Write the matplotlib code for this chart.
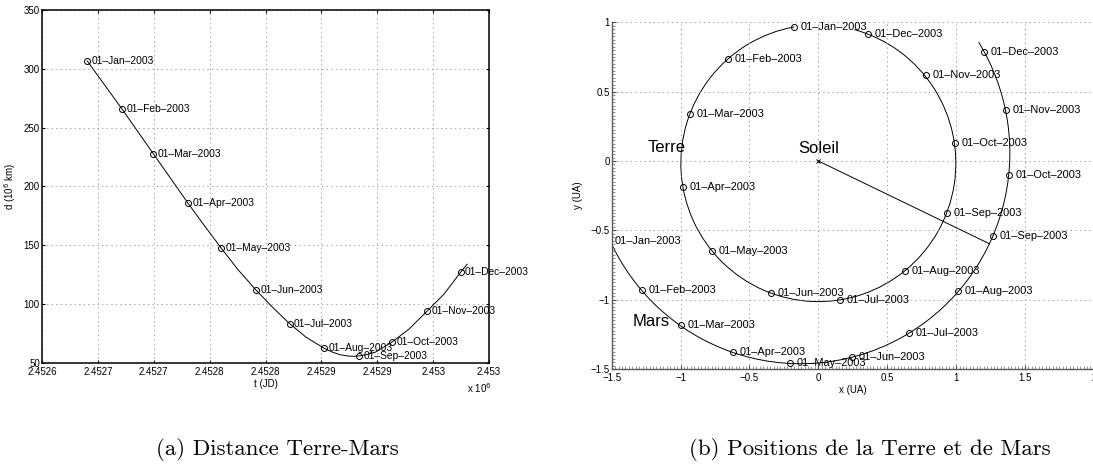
import numpy as np
import matplotlib.pyplot as plt
from matplotlib.patches import Arc
from matplotlib.ticker import MultipleLocator, FixedLocator

plt.rcParams['font.family'] = ['Liberation Sans', 'DejaVu Sans']

# ---- data ----
month_labels = ['01–Jan–2003', '01–Feb–2003', '01–Mar–2003', '01–Apr–2003',
                '01–May–2003', '01–Jun–2003', '01–Jul–2003', '01–Aug–2003',
                '01–Sep–2003', '01–Oct–2003', '01–Nov–2003', '01–Dec–2003']

# (a) distance Terre-Mars, 1e6 km, first day of each month
jd_months = [2452640.5, 2452671.5, 2452699.5, 2452730.5, 2452760.5, 2452791.5,
             2452821.5, 2452852.5, 2452883.5, 2452913.5, 2452944.5, 2452974.5]
d_months = [306.7, 266, 228, 186, 147.5, 112, 83.5, 62.5, 56.0, 68, 94, 127]

# curve (monthly + intermediate readings)
jd_curve = [2452640.5, 2452654.5, 2452671.5, 2452685.5, 2452699.5, 2452714.5,
            2452730.5, 2452745.5, 2452760.5, 2452775.5, 2452791.5, 2452806.5,
            2452821.5, 2452836.5, 2452852.5, 2452859.5, 2452866.5, 2452873.5,
            2452878.5, 2452883.5, 2452890.5, 2452898.5, 2452913.5, 2452928.5,
            2452944.5, 2452959.5, 2452974.5, 2452980.5]
d_curve = [306.7, 288.3, 266, 247, 228, 207.7, 186, 166.5, 147.5, 129.2, 112,
           97.2, 83.5, 71.8, 62.5, 59.4, 57.1, 55.95, 55.7, 56.0, 57.1, 59.3,
           68, 78.9, 94, 108.3, 127, 134]

t_ticks = [2452600, 2452650, 2452700, 2452750, 2452800, 2452850, 2452900,
           2452950, 2453000]
t_ticklabels = ['2.4526', '2.4527', '2.4527', '2.4528', '2.4528', '2.4529',
                '2.4529', '2.453', '2.453']

# (b) positions (UA), first day of each month
earth_x = [-0.174, -0.653, -0.931, -0.980, -0.769, -0.345, 0.157, 0.631,
           0.934, 0.992, 0.779, 0.363]
earth_y = [0.964, 0.733, 0.339, -0.185, -0.649, -0.952, -1.002, -0.793,
           -0.373, 0.132, 0.618, 0.918]
mars_x = [-1.53, -1.282, -0.999, -0.619, -0.205, 0.247, 0.658, 1.016,
          1.268, 1.384, 1.360, 1.202]
mars_y = [-0.58, -0.930, -1.185, -1.377, -1.459, -1.411, -1.243, -0.937,
          -0.541, -0.101, 0.368, 0.784]

# orbit traces read as arcs: centre, diameter, start/end angle (deg)
earth_orbit = dict(center=(0.0, -0.016), diam=1.996, theta1=100.1, theta2=434.8)
mars_orbit = dict(center=(-0.13, 0.058), diam=3.04, theta1=204.0, theta2=391.7)

sun_line_x = [0, 1.24]
sun_line_y = [0, -0.596]

GRID = dict(color='0.55', linestyle=(0, (1.5, 4)), linewidth=0.6)

fig = plt.figure(figsize=(10.93, 4.65), dpi=100)

# ---------------- (a) ----------------
ax1 = fig.add_axes([42/1093, 1-363/465, 447/1093, 353/465])
ax1.plot(jd_curve, d_curve, color='k', lw=0.7)
ax1.plot(jd_months, d_months, 'o', mfc='none', mec='k', ms=4.3, mew=0.7)
for lbl, x, y in zip(month_labels, jd_months, d_months):
    ax1.annotate(lbl, (x, y), xytext=(3.2, 0), textcoords='offset points',
                 va='center', ha='left', fontsize=7.4, annotation_clip=False)
ax1.set_xlim(2452600, 2453000)
ax1.set_ylim(50, 350)
ax1.xaxis.set_major_locator(FixedLocator(t_ticks))
ax1.set_xticklabels(t_ticklabels)
ax1.yaxis.set_major_locator(MultipleLocator(50))
ax1.tick_params(direction='in', top=True, right=True, length=2.5, width=0.8,
                labelsize=7, pad=3)
ax1.tick_params(axis='y', pad=1.5)
ax1.grid(True, **GRID)
for s in ax1.spines.values():
    s.set_linewidth(1.1)
ax1.set_xlabel('t (JD)', fontsize=7)
ax1.xaxis.set_label_coords(0.501, -0.045)
ax1.set_ylabel('d (10$^6$ km)', fontsize=7)
ax1.yaxis.set_label_coords(-0.054, 0.5)
fig.text(467/1093, 1-388/465, 'x 10$^6$', fontsize=7, ha='left', va='center')

# ---------------- (b) ----------------
ax2 = fig.add_axes([611.7/1093, 1-369/465, 482.2/1093, 346.7/465])
for orb in (earth_orbit, mars_orbit):
    ax2.add_patch(Arc(orb['center'], orb['diam'], orb['diam'],
                      theta1=orb['theta1'], theta2=orb['theta2'],
                      color='k', lw=0.7))
ax2.plot(sun_line_x, sun_line_y, color='k', lw=0.7)
ax2.plot([0], [0], 'x', color='k', ms=3.5, mew=0.7)
ax2.plot(earth_x, earth_y, 'o', mfc='none', mec='k', ms=4.3, mew=0.7)
ax2.plot(mars_x, mars_y, 'o', mfc='none', mec='k', ms=4.3, mew=0.7)
for lbl, x, y in zip(month_labels, earth_x, earth_y):
    ax2.annotate(lbl, (x, y), xytext=(4.8, 0), textcoords='offset points',
                 va='center', ha='left', fontsize=7.9, annotation_clip=False)
for lbl, x, y in zip(month_labels, mars_x, mars_y):
    ax2.annotate(lbl, (x, y), xytext=(4.8, 0), textcoords='offset points',
                 va='center', ha='left', fontsize=7.9, annotation_clip=False)
ax2.text(-1.241, 0.063, 'Terre', fontsize=12, ha='left', va='baseline')
ax2.text(-0.145, 0.06, 'Soleil', fontsize=12, ha='left', va='baseline')
ax2.text(-1.347, -1.19, 'Mars', fontsize=12, ha='left', va='baseline')
ax2.set_xlim(-1.5, 2)
ax2.set_ylim(-1.5, 1)
ax2.xaxis.set_major_locator(MultipleLocator(0.5))
ax2.yaxis.set_major_locator(MultipleLocator(0.5))
ax2.xaxis.set_minor_locator(MultipleLocator(0.025))
ax2.yaxis.set_minor_locator(MultipleLocator(0.025))
fmt = plt.FuncFormatter(lambda v, p: f'{v:g}'.replace('-', '\u2212'))
ax2.xaxis.set_major_formatter(fmt)
ax2.yaxis.set_major_formatter(fmt)
ax2.tick_params(which='major', direction='in', length=3, width=0.8,
                labelsize=7, pad=3, color='0.3')
ax2.tick_params(axis='y', pad=1.5)
ax2.tick_params(which='minor', direction='in', length=2, width=0.6, color='0.5')
ax2.grid(True, which='major', **GRID)
ax2.spines['top'].set_visible(False)
ax2.spines['right'].set_visible(False)
for s in ['left', 'bottom']:
    ax2.spines[s].set_linewidth(1.0)
    ax2.spines[s].set_color('0.35')
ax2.set_xlabel('x (UA)', fontsize=7)
ax2.xaxis.set_label_coords(0.5, -0.046)
ax2.set_ylabel('y (UA)', fontsize=7)
ax2.yaxis.set_label_coords(-0.0595, 0.5)

# captions
fig.text(277/1093, 1-449/465, '(a) Distance Terre-Mars', family='cmr10',
         fontsize=16.5, ha='center', va='center')
fig.text(870/1093, 1-449/465, '(b) Positions de la Terre et de Mars',
         family='cmr10', fontsize=16.5, ha='center', va='center')

fig.savefig('out.png', dpi=100)
